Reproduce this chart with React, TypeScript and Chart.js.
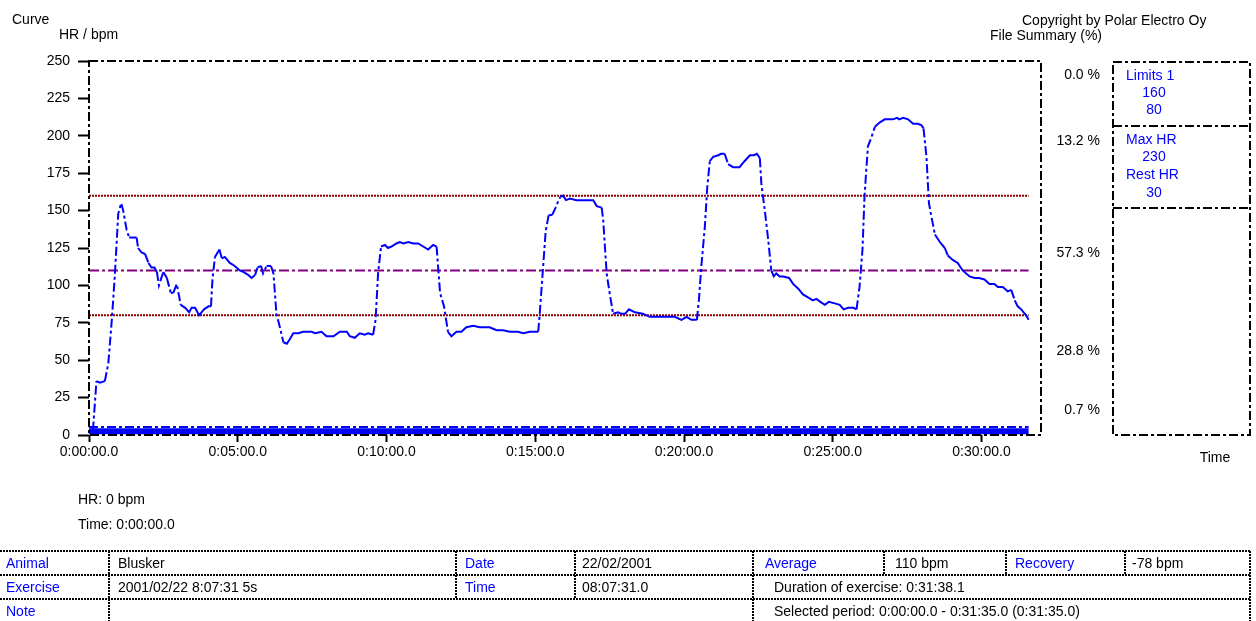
import React, { useEffect, useRef } from 'react';
import { Chart, registerables } from 'chart.js';

Chart.register(...registerables);

// ---- data (time in seconds, heart rate in bpm) ----
const hrCurve: [number, number][] = [
  [0, 2], [8, 3], [15, 36], [22, 35], [32, 36], [39, 48], [46, 77], [52, 106], [59, 148], [65, 155],
  [69, 150], [76, 137], [81, 132], [96, 132], [99, 125], [106, 122], [113, 121], [120, 115], [126, 112], [132, 112],
  [137, 109], [141, 100], [150, 109], [157, 105], [165, 95], [170, 95], [177, 101], [185, 87], [194, 85], [202, 82],
  [207, 85], [214, 85], [222, 80], [232, 84], [241, 86], [246, 86], [249, 104], [254, 119], [263, 124], [268, 118],
  [274, 119], [284, 115], [294, 113], [304, 110], [311, 109], [321, 107], [328, 105], [335, 107], [340, 112], [347, 113],
  [351, 108], [358, 113], [367, 113], [372, 108], [378, 81], [385, 72], [392, 62], [399, 61], [405, 64], [412, 68],
  [422, 68], [432, 69], [449, 69], [456, 68], [469, 69], [479, 66], [493, 66], [506, 69], [520, 69], [526, 66],
  [536, 65], [546, 68], [556, 67], [563, 68], [573, 67], [578, 77], [583, 108], [589, 126], [597, 127], [603, 125],
  [610, 126], [620, 128], [627, 129], [634, 128], [644, 129], [654, 128], [664, 128], [674, 126], [684, 124], [694, 127],
  [701, 126], [708, 95], [716, 86], [724, 69], [731, 66], [741, 69], [751, 69], [761, 72], [775, 73], [788, 72],
  [808, 72], [822, 70], [835, 70], [849, 69], [865, 69], [876, 68], [889, 69], [906, 69], [909, 81], [916, 113],
  [921, 136], [927, 147], [934, 147], [941, 152], [950, 159], [956, 160], [962, 157], [970, 158], [983, 157], [1017, 157],
  [1024, 153], [1034, 152], [1037, 144], [1044, 108], [1050, 95], [1057, 81], [1067, 82], [1074, 81], [1081, 81], [1089, 84],
  [1101, 82], [1117, 81], [1131, 79], [1151, 79], [1164, 79], [1181, 79], [1195, 77], [1205, 79], [1215, 77], [1226, 77],
  [1230, 90], [1235, 113], [1242, 139], [1247, 166], [1252, 183], [1259, 186], [1269, 187], [1275, 188], [1282, 188], [1289, 181],
  [1299, 179], [1312, 179], [1322, 183], [1333, 187], [1341, 187], [1347, 188], [1353, 185], [1356, 168], [1363, 150], [1370, 130],
  [1376, 110], [1381, 106], [1386, 108], [1393, 106], [1400, 106], [1412, 105], [1420, 101], [1430, 98], [1440, 94], [1450, 92],
  [1460, 90], [1467, 91], [1475, 89], [1484, 87], [1492, 89], [1504, 88], [1514, 87], [1522, 84], [1531, 85], [1542, 85],
  [1548, 84], [1554, 99], [1560, 124], [1564, 159], [1568, 179], [1571, 193], [1578, 199], [1585, 206], [1595, 209], [1605, 211],
  [1621, 211], [1630, 212], [1634, 211], [1642, 212], [1652, 211], [1662, 208], [1672, 208], [1679, 207], [1683, 205], [1689, 186],
  [1694, 155], [1699, 146], [1706, 134], [1716, 129], [1726, 125], [1732, 120], [1742, 117], [1752, 115], [1762, 110], [1776, 106],
  [1786, 105], [1795, 105], [1806, 104], [1816, 101], [1826, 101], [1833, 99], [1843, 99], [1853, 96], [1860, 97], [1867, 90],
  [1873, 86], [1880, 84], [1890, 80], [1895, 77],
];

const sessionSpan = [0, 1895];
const limitUpper = 160;
const limitLower = 80;
const averageHr = 110;
const baseBandValue = 2.5;
const baseBandEdge = 5.3;

const xMax = 1920;
const xTickSeconds = [0, 300, 600, 900, 1200, 1500, 1800];
const xTickLabels = ['0:00:00.0', '0:05:00.0', '0:10:00.0', '0:15:00.0', '0:20:00.0', '0:25:00.0', '0:30:00.0'];
const yMax = 250;
const yStep = 25;

const zonePercents = ['0.0 %', '13.2 %', '57.3 %', '28.8 %', '0.7 %'];
const summaryLabels = ['Limits 1', '160', '80', 'Max HR', '230', 'Rest HR', '30'];

const FONT = '"Liberation Sans", Arial, sans-serif';
const BLUE = '#0000ff';
const DASH_DOT = [9, 3, 3, 3];

type LabelProps = { x: number; y: number; text: string; color?: string; align?: 'left' | 'right' | 'center' };

function Label({ x, y, text, color = '#000', align = 'left' }: LabelProps) {
  return (
    <div
      style={{
        position: 'absolute',
        left: x,
        top: y - 9,
        height: 18,
        lineHeight: '18px',
        fontSize: 14,
        fontFamily: FONT,
        color,
        whiteSpace: 'nowrap',
        transform: align === 'right' ? 'translateX(-100%)' : align === 'center' ? 'translateX(-50%)' : undefined,
      }}
    >
      {text}
    </div>
  );
}

const tableRows = [551, 575, 599, 623];
const tableCols: number[][] = [
  [109, 456, 575, 753, 884, 1006, 1125, 1250],
  [109, 456, 575, 753, 1250],
  [109, 753, 1250],
];

const framePlugin = {
  id: 'frame',
  afterDraw(chart: any) {
    const { ctx, chartArea } = chart;
    const { left, top, right, bottom } = chartArea;
    ctx.save();
    ctx.strokeStyle = '#000';
    ctx.lineWidth = 2;
    ctx.setLineDash(DASH_DOT);
    ctx.strokeRect(left, top, right - left, bottom - top);
    // summary panel
    ctx.strokeRect(1113, 62, 137, 373);
    ctx.beginPath();
    ctx.moveTo(1113, 126);
    ctx.lineTo(1250, 126);
    ctx.moveTo(1113, 208);
    ctx.lineTo(1250, 208);
    ctx.stroke();
    // info table
    ctx.setLineDash([2, 1]);
    ctx.lineWidth = 2;
    ctx.beginPath();
    for (const y of tableRows) {
      ctx.moveTo(0, y);
      ctx.lineTo(1251, y);
    }
    tableCols.forEach((cols, r) => {
      for (const x of cols) {
        ctx.moveTo(x, tableRows[r]);
        ctx.lineTo(x, tableRows[r + 1]);
      }
    });
    ctx.stroke();
    ctx.restore();
  },
};

export default function App() {
  const canvasRef = useRef<HTMLCanvasElement | null>(null);

  useEffect(() => {
    const canvas = canvasRef.current;
    if (!canvas) return;
    const flat = (v: number) => sessionSpan.map((x) => ({ x, y: v }));
    const steepDash = (c: any) => {
      const dx = Math.abs(c.p1.x - c.p0.x);
      const dy = Math.abs(c.p1.y - c.p0.y);
      return dy > 2 * dx && dy > 6 ? DASH_DOT : undefined;
    };
    const chart = new Chart(canvas, {
      type: 'line',
      data: {
        datasets: [
          {
            label: 'HR',
            data: hrCurve.map(([x, y]) => ({ x, y })),
            borderColor: BLUE,
            borderWidth: 2,
            pointRadius: 0,
            tension: 0,
            segment: { borderDash: steepDash },
          } as any,
          {
            label: 'Upper limit',
            data: flat(limitUpper),
            borderColor: '#8b0000',
            borderWidth: 2,
            borderDash: [2, 1],
            pointRadius: 0,
          },
          {
            label: 'Lower limit',
            data: flat(limitLower),
            borderColor: '#8b0000',
            borderWidth: 2,
            borderDash: [2, 1],
            pointRadius: 0,
          },
          {
            label: 'Average',
            data: flat(averageHr),
            borderColor: '#800080',
            borderWidth: 2,
            borderDash: [10, 3, 3, 3],
            pointRadius: 0,
          },
          {
            label: 'Base edge',
            data: flat(baseBandEdge),
            borderColor: BLUE,
            borderWidth: 2,
            borderDash: DASH_DOT,
            pointRadius: 0,
          },
          {
            label: 'Base band',
            data: flat(baseBandValue),
            borderColor: BLUE,
            borderWidth: 6,
            pointRadius: 0,
          },
        ],
      },
      options: {
        animation: false,
        responsive: false,
        devicePixelRatio: 1,
        layout: { padding: { left: 0, top: 61, right: 215, bottom: 156 } },
        plugins: { legend: { display: false }, tooltip: { enabled: false } },
        scales: {
          x: {
            type: 'linear',
            min: 0,
            max: xMax,
            afterFit: (s: any) => {
              s.height = 30;
            },
            afterBuildTicks: (s: any) => {
              s.ticks = xTickSeconds.map((value) => ({ value }));
            },
            grid: {
              display: true,
              drawOnChartArea: false,
              drawTicks: true,
              tickLength: 7,
              tickColor: '#000',
              tickWidth: 2,
            },
            border: { display: false },
            ticks: {
              color: '#000',
              font: { family: FONT, size: 14 },
              padding: 2,
              maxRotation: 0,
              autoSkip: false,
              callback: (v: any) => {
                const i = xTickSeconds.indexOf(Number(v));
                return i >= 0 ? xTickLabels[i] : '';
              },
            },
          },
          y: {
            min: 0,
            max: yMax,
            afterFit: (s: any) => {
              s.width = 89;
            },
            grid: {
              display: true,
              drawOnChartArea: false,
              drawTicks: true,
              tickLength: 11,
              tickColor: '#000',
              tickWidth: 2,
            },
            border: { display: false },
            ticks: {
              stepSize: yStep,
              color: '#000',
              font: { family: FONT, size: 14 },
              padding: 8,
            },
          },
        },
      },
      plugins: [framePlugin],
    });
    return () => chart.destroy();
  }, []);

  const zoneY = [74, 140, 252, 350, 409];
  return (
    <div
      style={{
        position: 'fixed',
        left: 0,
        top: 0,
        width: 1256,
        height: 621,
        background: '#fff',
        overflow: 'hidden',
        fontFamily: FONT,
      }}
    >
      <canvas ref={canvasRef} width={1256} height={621} style={{ position: 'absolute', left: 0, top: 0, width: 1256, height: 621 }} />
      <Label x={12} y={19} text="Curve" />
      <Label x={59} y={34} text="HR / bpm" />
      <Label x={1022} y={20} text="Copyright by Polar Electro Oy" />
      <Label x={1102} y={35} text="File Summary (%)" align="right" />
      {zonePercents.map((t, i) => (
        <Label key={t} x={1100} y={zoneY[i]} text={t} align="right" />
      ))}
      <Label x={1126} y={75} text={summaryLabels[0]} color={BLUE} />
      <Label x={1154} y={92} text={summaryLabels[1]} color={BLUE} align="center" />
      <Label x={1154} y={109} text={summaryLabels[2]} color={BLUE} align="center" />
      <Label x={1126} y={139} text={summaryLabels[3]} color={BLUE} />
      <Label x={1154} y={156} text={summaryLabels[4]} color={BLUE} align="center" />
      <Label x={1126} y={174} text={summaryLabels[5]} color={BLUE} />
      <Label x={1154} y={192} text={summaryLabels[6]} color={BLUE} align="center" />
      <Label x={1215} y={457} text="Time" align="center" />
      <Label x={78} y={499} text="HR: 0 bpm" />
      <Label x={78} y={524} text="Time: 0:00:00.0" />

      <Label x={6} y={563} text="Animal" color={BLUE} />
      <Label x={118} y={563} text="Blusker" />
      <Label x={465} y={563} text="Date" color={BLUE} />
      <Label x={582} y={563} text="22/02/2001" />
      <Label x={765} y={563} text="Average" color={BLUE} />
      <Label x={895} y={563} text="110 bpm" />
      <Label x={1015} y={563} text="Recovery" color={BLUE} />
      <Label x={1132} y={563} text="-78 bpm" />

      <Label x={6} y={587} text="Exercise" color={BLUE} />
      <Label x={118} y={587} text="2001/02/22 8:07:31 5s" />
      <Label x={465} y={587} text="Time" color={BLUE} />
      <Label x={582} y={587} text="08:07:31.0" />
      <Label x={774} y={587} text="Duration of exercise: 0:31:38.1" />

      <Label x={6} y={611} text="Note" color={BLUE} />
      <Label x={774} y={611} text="Selected period: 0:00:00.0 - 0:31:35.0 (0:31:35.0)" />
    </div>
  );
}
